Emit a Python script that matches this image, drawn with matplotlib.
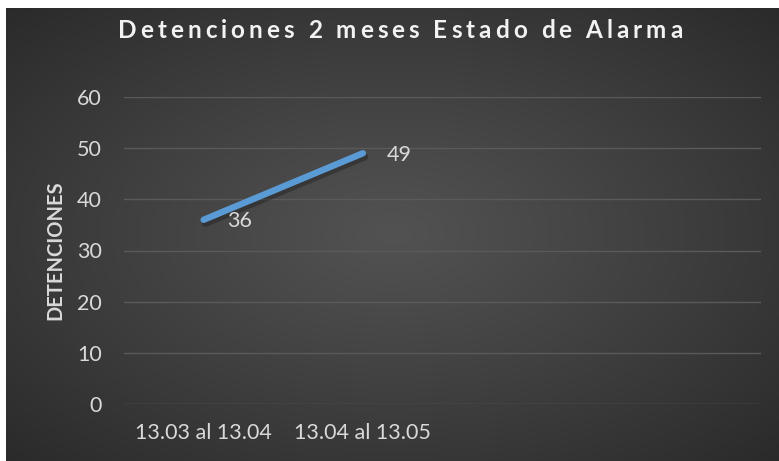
import numpy as np
import matplotlib
matplotlib.use("Agg")
from matplotlib import pyplot as plt

# data
kategori = ["13.03 al 13.04", "13.04 al 13.05", "", ""]
detenciones = [36, 49]
yticks = [0, 10, 20, 30, 40, 50, 60]
judul = "Detenciones 2 meses Estado de Alarma"

plt.rcParams['font.family'] = ['Lato', 'DejaVu Sans']

fig = plt.figure(figsize=(7.79, 4.61), dpi=100)
fig.patch.set_facecolor("white")

# background dengan gradien radial (bagian tengah lebih terang)
bg = fig.add_axes([6 / 779, 0, 773 / 779, 453 / 461])
bg.set_axis_off()
w, h = 773, 453
xx, yy = np.meshgrid(np.linspace(0, 1, w), np.linspace(0, 1, h))
r = np.sqrt(((xx - 0.5) / 0.75) ** 2 + ((yy - 0.5) / 0.75) ** 2)
r = np.clip(r / 0.95, 0, 1)
c_in, c_out = 0x52 / 255, 0x2a / 255
val = c_in + (c_out - c_in) * r ** 1.1
bg.imshow(np.dstack([val, val, val]), aspect="auto", extent=[0, 1, 0, 1])
bg.set_xlim(0, 1)
bg.set_ylim(0, 1)

ax = fig.add_axes([124 / 779, 1 - 404 / 461, 637 / 779, 307 / 461])
ax.patch.set_alpha(0)

x = np.arange(len(kategori))
xd = x[:len(detenciones)]
# bayangan garis
ax.plot(xd + 0.012, np.array(detenciones) - 0.7, color="black", alpha=0.25,
        linewidth=5, solid_capstyle="round")
ax.plot(xd, detenciones, color="#5b9bd5", linewidth=4.6, solid_capstyle="round")
for xi, yi in zip(xd, detenciones):
    ax.annotate(str(yi), (xi, yi), xytext=(17, -1), textcoords="offset points",
                ha="left", va="center", fontsize=15.5, color="#d9d9d9")

ax.set_xlim(-0.5, len(kategori) - 0.5)
ax.set_ylim(0, 60)
ax.set_yticks(yticks)
ax.set_xticks(x)
ax.set_xticklabels(kategori)
ax.grid(axis="y", color="#5a5a5a", linewidth=1)
ax.set_axisbelow(True)
for s in ax.spines.values():
    s.set_visible(False)
ax.tick_params(axis="both", length=0, labelsize=15.5, labelcolor="#d9d9d9")
ax.tick_params(axis="y", pad=16)
ax.tick_params(axis="x", pad=14)
ax.set_ylabel("DETENCIONES", fontsize=14.5, fontweight="bold", color="#d9d9d9", labelpad=8)

# judul dengan jarak antar huruf
renderer = fig.canvas.get_renderer()
ukuran_judul = 17.5
def lebar(s):
    t = fig.text(0, 0, s, fontsize=ukuran_judul, fontweight="bold")
    wd = t.get_window_extent(renderer).width
    t.remove()
    return wd

spasi = 4.0
lebar_x = lebar("x")
posisi = [lebar(judul[:i] + "x") - lebar_x for i in range(len(judul))]
total = lebar(judul) + spasi * (len(judul) - 1)
x0 = 400 - total / 2
yj = 1 - 31 / 461
for i, ch in enumerate(judul):
    if ch == " ":
        continue
    px = x0 + posisi[i] + spasi * i
    fig.text(px / 779, yj, ch, ha="left", va="center", fontsize=ukuran_judul,
             fontweight="bold", color="#f2f2f2")

fig.savefig("out.png", dpi=100, facecolor=fig.get_facecolor())
